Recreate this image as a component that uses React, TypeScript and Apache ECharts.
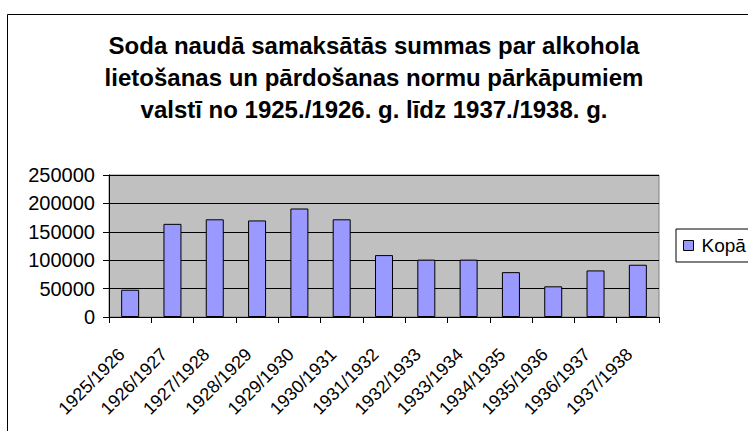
import React, { useEffect, useRef } from "react";
import * as echarts from "echarts";

const titleText =
  "Soda naudā samaksātās summas par alkohola\nlietošanas un pārdošanas normu pārkāpumiem\nvalstī no 1925./1926. g. līdz 1937./1938. g.";
const categories = [
  "1925/1926",
  "1926/1927",
  "1927/1928",
  "1928/1929",
  "1929/1930",
  "1930/1931",
  "1931/1932",
  "1932/1933",
  "1933/1934",
  "1934/1935",
  "1935/1936",
  "1936/1937",
  "1937/1938",
];
const seriesName = "Kopā";
const values = [48000, 164000, 172000, 170000, 191000, 172000, 109000, 101000, 101000, 79000, 54000, 82000, 92000];

const FONT = "'Liberation Sans', Arial, sans-serif";

export default function App() {
  const ref = useRef<HTMLDivElement>(null);
  useEffect(() => {
    if (!ref.current) return;
    const chart = echarts.init(ref.current, undefined, { renderer: "svg" });
    chart.setOption({
      animation: false,
      backgroundColor: "#ffffff",
      textStyle: { fontFamily: FONT },
      title: {
        text: titleText,
        left: "center",
        top: 29,
        padding: 0,
        textStyle: {
          fontFamily: FONT,
          fontSize: 24,
          fontWeight: "bold",
          lineHeight: 32,
          color: "#000",
          align: "center",
        },
      },
      graphic: [
        { type: "line", shape: { x1: 7.5, y1: 14.5, x2: 748, y2: 14.5 }, style: { stroke: "#000", lineWidth: 1 } },
        { type: "line", shape: { x1: 7.5, y1: 14.5, x2: 7.5, y2: 431 }, style: { stroke: "#000", lineWidth: 1 } },
      ],
      legend: {
        left: 676,
        top: 229,
        orient: "vertical",
        padding: [7, 40, 7, 7],
        borderColor: "#000",
        borderWidth: 1,
        borderRadius: 0,
        icon: "rect",
        itemWidth: 10,
        itemHeight: 10,
        itemGap: 4,
        textStyle: { fontFamily: FONT, fontSize: 19, color: "#000", padding: [0, 0, 0, 3] },
        data: [{ name: seriesName, itemStyle: { color: "#9999ff", borderColor: "#000", borderWidth: 1 } }],
      },
      grid: {
        left: 109,
        right: 89,
        top: 175,
        bottom: 114,
        show: true,
        backgroundColor: "#c0c0c0",
        borderColor: "#808080",
        borderWidth: 1,
      },
      xAxis: {
        type: "category",
        data: categories,
        boundaryGap: true,
        axisLine: { show: true, lineStyle: { color: "#000", width: 1 } },
        axisTick: { show: true, length: 6, alignWithLabel: false, lineStyle: { color: "#000" } },
        axisLabel: {
          rotate: 45,
          interval: 0,
          margin: 26,
          padding: [0, 12, 0, 0],
          fontFamily: FONT,
          fontSize: 18,
          color: "#000",
        },
        splitLine: { show: false },
      },
      yAxis: {
        type: "value",
        min: 0,
        max: 250000,
        interval: 50000,
        axisLine: { show: true, lineStyle: { color: "#000", width: 1 } },
        axisTick: { show: true, length: 6, lineStyle: { color: "#000" } },
        axisLabel: {
          margin: 14,
          fontFamily: FONT,
          fontSize: 20,
          color: "#000",
          formatter: (v: number) => String(v),
        },
        splitLine: { show: true, lineStyle: { color: "#000", width: 1 } },
      },
      series: [
        {
          name: seriesName,
          type: "bar",
          data: values,
          barWidth: 18,
          itemStyle: { color: "#9999ff", borderColor: "#000", borderWidth: 1 },
        },
      ],
    });
    return () => chart.dispose();
  }, []);
  return <div ref={ref} style={{ width: 748, height: 431, position: "absolute", left: 0, top: 0 }} />;
}
